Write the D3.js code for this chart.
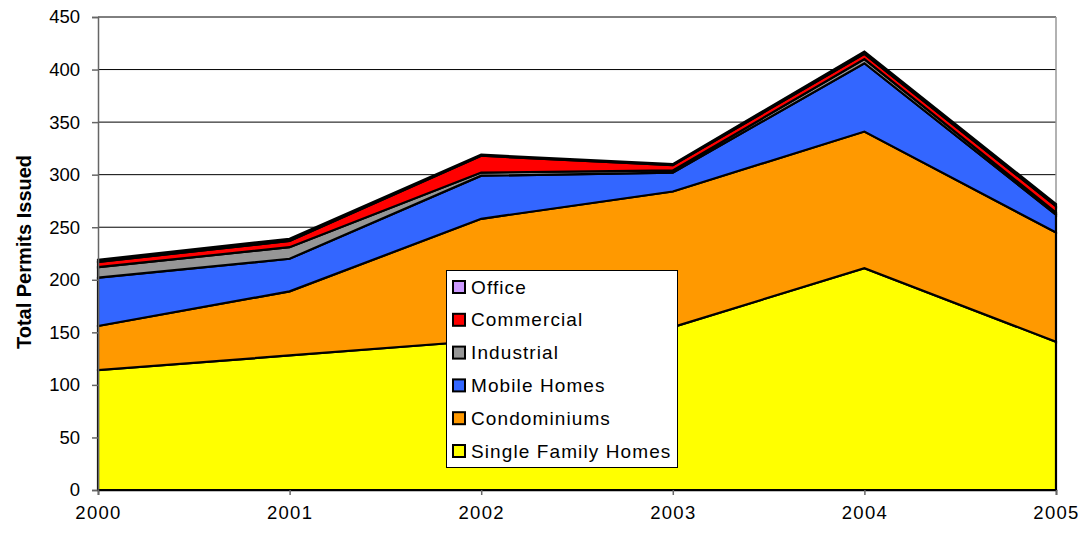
<!DOCTYPE html>
<html><head><meta charset="utf-8">
<script src="https://cdn.jsdelivr.net/npm/d3@7"></script>
<style>body{margin:0;background:#fff;font-family:Arial,"Liberation Sans",sans-serif;}</style>
</head><body><svg id="c" width="1089" height="534"></svg>
<script>
const years = [2000, 2001, 2002, 2003, 2004, 2005];
const seriesNames = ["Single Family Homes", "Condominiums", "Mobile Homes", "Industrial", "Commercial", "Office"];
const singleFamily = [114, 128, 142, 155, 211, 141];
const condominiums = [42, 61, 116, 129, 130, 104];
const mobileHomes = [46, 31, 41, 18, 65, 17];
const industrial = [10, 11, 3, 2, 4, 2];
const commercial = [5, 6, 16, 5, 5, 6];
const office = [2, 2, 1, 1, 2, 2];
const colors = ["#FFFF00", "#FF9900", "#3366FF", "#969696", "#FF0000", "#CC99FF"];
const yTicks = [0, 50, 100, 150, 200, 250, 300, 350, 400, 450];

const seriesVals = [singleFamily, condominiums, mobileHomes, industrial, commercial, office];
const rows = years.map((y, i) => {
  const r = {year: y};
  seriesNames.forEach((n, k) => r[n] = seriesVals[k][i]);
  return r;
});

const FONT = "Arial, 'Liberation Sans', sans-serif";
const svg = d3.select("#c");
const L = 98, R = 1056, T = 17, B = 490;
const x = d3.scaleLinear().domain([2000, 2005]).range([L, R]);
const y = d3.scaleLinear().domain([0, 450]).range([B, T]);

// gridlines
svg.append("g").selectAll("line").data(yTicks.filter(d => d > 0)).join("line")
  .attr("x1", L).attr("x2", R).attr("y1", d => y(d)).attr("y2", d => y(d))
  .attr("stroke", "#000").attr("stroke-width", 1);

// right border
svg.append("line").attr("x1", R).attr("x2", R).attr("y1", T).attr("y2", B)
  .attr("stroke", "#999").attr("stroke-width", 1.5);

const stack = d3.stack().keys(seriesNames);
const stacked = stack(rows);
const area = d3.area().x(d => x(d.data.year)).y0(d => y(d[0])).y1(d => y(d[1]));
svg.append("g").selectAll("path").data(stacked).join("path")
  .attr("d", area).attr("fill", (d, i) => colors[i])
  .attr("stroke", "#000").attr("stroke-width", 2.2).attr("stroke-linejoin", "miter");

// y axis
const yAxis = svg.append("g").attr("transform", `translate(${L},0)`)
  .call(d3.axisLeft(y).tickValues(yTicks).tickSize(6).tickPadding(12));
yAxis.select(".domain").attr("stroke", "#666").attr("stroke-width", 1.5);
yAxis.selectAll(".tick line").attr("stroke", "#666").attr("stroke-width", 1.5);
yAxis.selectAll("text").attr("font-size", 18.5).attr("font-family", FONT).attr("fill", "#000");

// x axis
const xAxis = svg.append("g").attr("transform", `translate(0,${B})`)
  .call(d3.axisBottom(x).tickValues(years).tickFormat(d3.format("d")).tickSize(5).tickPadding(11));
xAxis.select(".domain").attr("stroke", "#000").attr("stroke-width", 1.5);
xAxis.selectAll(".tick line").attr("stroke", "#666").attr("stroke-width", 1.5);
xAxis.selectAll("text").attr("font-size", 18.5).attr("font-family", FONT).attr("fill", "#000")
  .attr("letter-spacing", "1.3px");

// y title
svg.append("text").attr("transform", "translate(31,252) rotate(-90)")
  .attr("text-anchor", "middle").attr("font-size", 20).attr("font-weight", "bold")
  .attr("font-family", FONT).text("Total Permits Issued");

// legend
const lg = svg.append("g");
lg.append("rect").attr("x", 446.5).attr("y", 270.5).attr("width", 231).attr("height", 197)
  .attr("fill", "#fff").attr("stroke", "#000").attr("stroke-width", 1);
const legendOrder = seriesNames.map((n, i) => ({n, c: colors[i]})).reverse();
const items = lg.selectAll("g.item").data(legendOrder).join("g")
  .attr("transform", (d, i) => `translate(0,${287 + i * 32.8})`);
items.append("rect").attr("x", 453).attr("y", -6).attr("width", 12).attr("height", 12)
  .attr("fill", d => d.c).attr("stroke", "#000").attr("stroke-width", 2);
items.append("text").attr("x", 471).attr("y", 0).attr("dy", "0.35em")
  .attr("font-size", 19).attr("letter-spacing", "1.1px").attr("font-family", FONT).text(d => d.n);
</script></body></html>
